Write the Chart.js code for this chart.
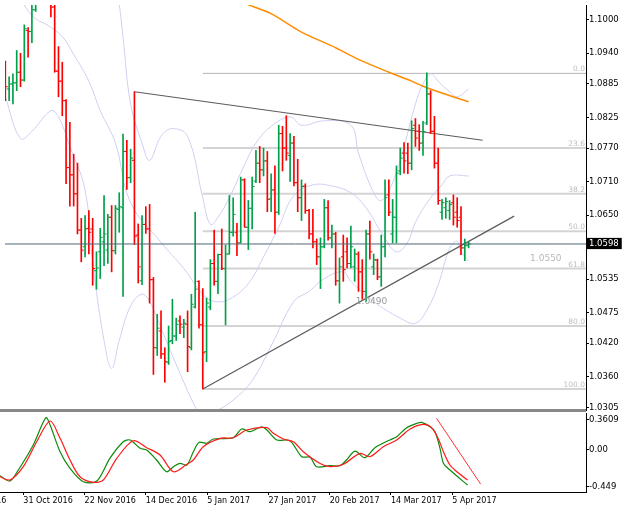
<!DOCTYPE html>
<html lang="en">
<head>
<meta charset="UTF-8" />
<title>EURUSD Daily</title>
<script src="https://cdn.jsdelivr.net/npm/chart.js"></script>
<style>
  body { margin: 0; background: #fff; }
  #wrap { position: relative; width: 625px; height: 513px; overflow: hidden; }
  canvas { position: absolute; left: 0; }
  #main { top: 0; }
  #osc { top: 410px; }
  #sep { position: absolute; left: 0; top: 409px; width: 586px; height: 3px; background: #888; }
</style>
</head>
<body>
<div id="wrap">
  <canvas id="main" width="625" height="420"></canvas>
  <div id="sep"></div>
  <canvas id="osc" width="625" height="103"></canvas>
</div>
<script>
// bar number 0 = 21 Oct 2016, one bar per weekday, 122 = 11 Apr 2017
const opens = [
  1.0917, 1.0876, 1.0885, 1.0887, 1.0906, 1.0892, 1.0981, 1.0979, 1.1018, 1.1097,
  1.1103, 1.1100, 1.1040, 1.1023, 1.0908, 1.0890, 1.0855, 1.0735, 1.0722, 1.0688,
  1.0623, 1.0593, 1.0626, 1.0625, 1.0550, 1.0584, 1.0602, 1.0587, 1.0646, 1.0586,
  1.0660, 1.0663, 1.0764, 1.0717, 1.0748, 1.0614, 1.0532, 1.0633, 1.0625, 1.0534,
  1.0412, 1.0442, 1.0401, 1.0386, 1.0425, 1.0433, 1.0460, 1.0449, 1.0454, 1.0412,
  1.0485, 1.0531, 1.0453, 1.0405, 1.0485, 1.0563, 1.0531, 1.0579, 1.0554, 1.0580,
  1.0619, 1.0619, 1.0600, 1.0713, 1.0628, 1.0662, 1.0711, 1.0743, 1.0731, 1.0747,
  1.0679, 1.0695, 1.0655, 1.0796, 1.0770, 1.0757, 1.0779, 1.0708, 1.0681, 1.0702,
  1.0658, 1.0616, 1.0602, 1.0575, 1.0593, 1.0663, 1.0609, 1.0616, 1.0532, 1.0575,
  1.0584, 1.0563, 1.0557, 1.0580, 1.0548, 1.0513, 1.0616, 1.0557, 1.0569, 1.0539,
  1.0593, 1.0686, 1.0616, 1.0646, 1.0729, 1.0761, 1.0761, 1.0743, 1.0811, 1.0800,
  1.0779, 1.0815, 1.0867, 1.0800, 1.0743, 1.0655, 1.0663, 1.0658, 1.0672, 1.0655,
  1.0646, 1.0591, 1.0596
];
const highs = [
  1.0926, 1.0898, 1.0903, 1.0945, 1.0940, 1.0991, 1.0986, 1.1035, 1.1125, 1.1122,
  1.1143, 1.1105, 1.1075, 1.1300, 1.0952, 1.0924, 1.0857, 1.0816, 1.0759, 1.0743,
  1.0644, 1.0649, 1.0658, 1.0644, 1.0584, 1.0626, 1.0685, 1.0651, 1.0667, 1.0667,
  1.0690, 1.0795, 1.0784, 1.0768, 1.0871, 1.0634, 1.0649, 1.0665, 1.0669, 1.0538,
  1.0472, 1.0478, 1.0412, 1.0451, 1.0499, 1.0465, 1.0469, 1.0463, 1.0478, 1.0508,
  1.0655, 1.0532, 1.0518, 1.0501, 1.0570, 1.0623, 1.0580, 1.0625, 1.0596, 1.0685,
  1.0681, 1.0635, 1.0718, 1.0715, 1.0676, 1.0718, 1.0766, 1.0773, 1.0770, 1.0764,
  1.0724, 1.0738, 1.0811, 1.0809, 1.0828, 1.0796, 1.0791, 1.0750, 1.0713, 1.0706,
  1.0660, 1.0660, 1.0607, 1.0609, 1.0678, 1.0676, 1.0632, 1.0619, 1.0573, 1.0614,
  1.0609, 1.0630, 1.0589, 1.0584, 1.0570, 1.0623, 1.0639, 1.0580, 1.0571, 1.0614,
  1.0713, 1.0713, 1.0678, 1.0738, 1.0770, 1.0780, 1.0779, 1.0819, 1.0823, 1.0812,
  1.0818, 1.0905, 1.0873, 1.0827, 1.0770, 1.0678, 1.0681, 1.0676, 1.0686, 1.0681,
  1.0665, 1.0607, 1.0602
];
const lows = [
  1.0855, 1.0855, 1.0849, 1.0873, 1.0880, 1.0890, 1.0933, 1.0959, 1.1015, 1.1050,
  1.1080, 1.1028, 1.1005, 1.0906, 1.0862, 1.0828, 1.0706, 1.0666, 1.0666, 1.0616,
  1.0566, 1.0575, 1.0580, 1.0524, 1.0517, 1.0536, 1.0559, 1.0563, 1.0548, 1.0580,
  1.0619, 1.0504, 1.0696, 1.0708, 1.0597, 1.0528, 1.0525, 1.0617, 1.0492, 1.0364,
  1.0398, 1.0393, 1.0350, 1.0382, 1.0419, 1.0425, 1.0437, 1.0430, 1.0369, 1.0408,
  1.0483, 1.0447, 1.0338, 1.0387, 1.0480, 1.0524, 1.0509, 1.0552, 1.0453, 1.0580,
  1.0612, 1.0577, 1.0600, 1.0628, 1.0588, 1.0625, 1.0708, 1.0708, 1.0720, 1.0656,
  1.0656, 1.0617, 1.0651, 1.0729, 1.0748, 1.0710, 1.0702, 1.0656, 1.0640, 1.0653,
  1.0607, 1.0591, 1.0561, 1.0518, 1.0591, 1.0605, 1.0591, 1.0524, 1.0492, 1.0531,
  1.0555, 1.0555, 1.0531, 1.0513, 1.0499, 1.0495, 1.0571, 1.0543, 1.0534, 1.0522,
  1.0575, 1.0649, 1.0600, 1.0600, 1.0722, 1.0725, 1.0724, 1.0731, 1.0773, 1.0766,
  1.0757, 1.0812, 1.0796, 1.0734, 1.0669, 1.0642, 1.0644, 1.0642, 1.0632, 1.0628,
  1.0579, 1.0568, 1.0591
];
const closes = [
  1.0880, 1.0885, 1.0887, 1.0906, 1.0892, 1.0984, 1.0979, 1.1018, 1.1097, 1.1103,
  1.1140, 1.1040, 1.1023, 1.0908, 1.0890, 1.0855, 1.0735, 1.0722, 1.0688, 1.0623,
  1.0587, 1.0625, 1.0619, 1.0554, 1.0555, 1.0610, 1.0616, 1.0646, 1.0586, 1.0662,
  1.0665, 1.0764, 1.0717, 1.0752, 1.0612, 1.0557, 1.0633, 1.0625, 1.0534, 1.0412,
  1.0447, 1.0401, 1.0387, 1.0423, 1.0433, 1.0454, 1.0454, 1.0456, 1.0414, 1.0490,
  1.0517, 1.0453, 1.0403, 1.0492, 1.0563, 1.0531, 1.0579, 1.0554, 1.0580, 1.0619,
  1.0651, 1.0600, 1.0713, 1.0628, 1.0662, 1.0701, 1.0743, 1.0731, 1.0747, 1.0678,
  1.0695, 1.0655, 1.0796, 1.0770, 1.0761, 1.0779, 1.0708, 1.0681, 1.0701, 1.0658,
  1.0616, 1.0602, 1.0575, 1.0593, 1.0663, 1.0609, 1.0616, 1.0532, 1.0557, 1.0552,
  1.0563, 1.0593, 1.0580, 1.0548, 1.0513, 1.0616, 1.0584, 1.0570, 1.0539, 1.0593,
  1.0681, 1.0655, 1.0646, 1.0725, 1.0752, 1.0747, 1.0743, 1.0805, 1.0788, 1.0779,
  1.0800, 1.0867, 1.0800, 1.0743, 1.0676, 1.0672, 1.0674, 1.0669, 1.0646, 1.0640,
  1.0591, 1.0595, 1.0598
];
const lastPrice = 1.0598;

// bollinger bands at a few bars
const upperBar = [28, 30, 31, 33, 36, 38, 41, 44, 48, 52, 54, 56, 59, 63, 66, 70, 75, 78, 84, 91, 93, 97, 99, 102, 105, 108, 110, 112, 114, 117, 119, 122];
const upperBand = [1.1098, 1.1027, 1.0968, 1.0849, 1.0779, 1.0748, 1.0791, 1.0805, 1.0791, 1.0681, 1.0633, 1.0646, 1.0681, 1.0740, 1.0779, 1.0809, 1.0826, 1.0811, 1.0819, 1.0811, 1.0761, 1.0690, 1.0676, 1.0708, 1.0773, 1.0849, 1.0885, 1.0903, 1.0890, 1.0871, 1.0862, 1.0876];
const midBar = [3, 5, 8, 11, 15, 18, 22, 25, 29, 33, 41, 47, 52, 55, 59, 64, 68, 72, 76, 81, 86, 91, 95, 99, 103, 106, 108, 112, 115, 117, 122];
const midBand = [1.1062, 1.1027, 1.1002, 1.0991, 1.0970, 1.0938, 1.0890, 1.0837, 1.0779, 1.0672, 1.0601, 1.0554, 1.0508, 1.0495, 1.0499, 1.0527, 1.0575, 1.0628, 1.0685, 1.0704, 1.0702, 1.0690, 1.0663, 1.0619, 1.0584, 1.0602, 1.0637, 1.0681, 1.0704, 1.0720, 1.0720];
const lowerBar = [0, 4, 7, 12, 14, 17, 21, 23, 26, 28, 30, 33, 36, 38, 41, 46, 50, 52, 56, 60, 65, 70, 76, 80, 84, 89, 91, 97, 104, 108, 111, 114, 117, 119, 120, 122];
const lowerBand = [1.0862, 1.0787, 1.0800, 1.0837, 1.0826, 1.0773, 1.0695, 1.0566, 1.0425, 1.0375, 1.0425, 1.0487, 1.0508, 1.0495, 1.0447, 1.0366, 1.0306, 1.0286, 1.0300, 1.0318, 1.0353, 1.0415, 1.0495, 1.0513, 1.0536, 1.0548, 1.0531, 1.0495, 1.0465, 1.0456, 1.0479, 1.0525, 1.0590, 1.0603, 1.0585, 1.0567];

// long moving average (orange)
const maBar = [58, 64, 70, 78, 87, 93, 101, 107, 110, 114, 122];
const maLine = [1.1045, 1.1027, 1.1011, 1.0978, 1.0950, 1.0929, 1.0906, 1.0890, 1.0881, 1.0871, 1.0853];

// drawn objects
const fibLabels = ['0.0', '23.6', '38.2', '50.0', '61.8', '80.0', '100.0'];
const fibPrices = [1.0904, 1.0770, 1.0688, 1.0621, 1.0554, 1.0451, 1.0338];
const fibStartBar = 52;
const topTrend = [{ bar: 34, price: 1.0871 }, { bar: 125.7, price: 1.0784 }];
const lowTrend = [{ bar: 52, price: 1.0338 }, { bar: 134, price: 1.0648 }];
const notes = [
  { text: '1.0550', bar: 138.2, price: 1.0572, color: '#b8b8b8' },
  { text: '1.0490', bar: 92.3, price: 1.0494, color: '#9a9a9a' }
];

// oscillator
const mainBar = [-0.1, 2.5, 4.7, 8.6, 11.9, 13, 15.6, 18.2, 21.7, 25.2, 28.6, 32.1, 33.9, 36.5, 38.2, 40.8, 43.4, 45.2, 46.9, 48.7, 50.4, 51.9, 53.9, 55.6, 60.8, 63, 65.2, 68.2, 69.6, 72.2, 75.6, 78.7, 80.9, 82.6, 86.1, 88.7, 90.4, 92.6, 95.2, 97.8, 101.7, 103.5, 106.1, 108.7, 110, 112.2, 113.5, 114.8, 115.7, 117.4, 122];
const mainLine = [-0.313, -0.377, -0.244, 0.058, 0.388, 0.300, -0.023, -0.224, -0.386, -0.377, -0.103, 0.098, 0.119, 0.018, -0.002, -0.123, -0.265, -0.204, -0.163, -0.184, -0.023, 0.091, 0.079, 0.131, 0.146, 0.252, 0.219, 0.279, 0.239, 0.119, 0.110, -0.083, -0.091, -0.204, -0.192, -0.192, -0.123, -0.015, -0.095, 0.026, 0.119, 0.159, 0.268, 0.320, 0.332, 0.280, 0.219, 0.018, -0.163, -0.244, -0.426];
const signalBar = [-0.1, 2.5, 6, 9.5, 13, 15.6, 18.2, 20.8, 24.3, 26.9, 30.4, 34.7, 38.2, 41.7, 45.2, 48.7, 50.4, 53, 57.4, 60.8, 64.3, 69.6, 71.3, 73.9, 76.5, 79.1, 83.5, 86.1, 89.6, 93.9, 96.5, 100, 103.5, 107, 110.4, 112.6, 114.3, 115.7, 117.4, 119.2, 122];
const signalLine = [-0.325, -0.365, -0.204, 0.098, 0.348, 0.139, -0.123, -0.325, -0.393, -0.365, -0.103, 0.110, 0.026, -0.063, -0.265, -0.175, -0.123, 0.038, 0.139, 0.146, 0.239, 0.268, 0.199, 0.131, 0.098, -0.023, -0.165, -0.204, -0.175, -0.043, -0.083, 0.038, 0.119, 0.252, 0.308, 0.268, 0.139, -0.023, -0.184, -0.265, -0.365];
const oscTrendBar = [113.9, 125.4];
const oscTrend = [0.381, -0.414];

// axes
const priceTicks = [1.1000, 1.0940, 1.0885, 1.0825, 1.0770, 1.0710, 1.0650, 1.0598, 1.0535, 1.0475, 1.0420, 1.0360, 1.0305];
const oscTicks = [0.3609, 0, -0.449];
const oscTickLabels = ['0.3609', '0.00', '-0.449'];
const tickBars = [-10, 6, 22, 38, 54, 70, 86, 102, 118];
const tickLabels = ['7 Oct 2016', '31 Oct 2016', '22 Nov 2016', '14 Dec 2016', '5 Jan 2017', '27 Jan 2017', '20 Feb 2017', '14 Mar 2017', '5 Apr 2017'];

const xMin = -0.084, xMax = 152.92;
const axisFont = { family: 'DejaVu Sans', size: 8.5 };
const UP = '#00a04a', DOWN = '#ff0000';

const pts = (xs, ys) => xs.map((x, i) => ({ x: x, y: ys[i] }));
const barColors = opens.map((o, i) => closes[i] >= o ? UP : DOWN);

function line(data, color, width, order, extra) {
  return Object.assign({ type: 'line', data: data, borderColor: color, borderWidth: width,
    pointRadius: 0, fill: false, order: order }, extra || {});
}

const fibSets = fibPrices.map((p, i) => line(
  [{ x: fibStartBar, y: p }, { x: xMax, y: p }],
  i === 0 ? '#b4b4b4' : '#d4d4d4', i === 0 ? 1 : 2, 9));

const textLayer = {
  id: 'textLayer',
  afterDatasetsDraw(chart) {
    const { ctx, chartArea, scales } = chart;
    ctx.save();
    ctx.font = '7.5px "DejaVu Sans"';
    ctx.fillStyle = '#bdbdbd';
    ctx.textAlign = 'right';
    ctx.textBaseline = 'alphabetic';
    fibPrices.forEach((p, i) => {
      ctx.fillText(fibLabels[i], chartArea.right - 1, scales.y.getPixelForValue(p) - 2);
    });
    ctx.font = '9px "DejaVu Sans"';
    ctx.textAlign = 'left';
    ctx.textBaseline = 'middle';
    notes.forEach(n => {
      ctx.fillStyle = n.color;
      ctx.fillText(n.text, scales.x.getPixelForValue(n.bar), scales.y.getPixelForValue(n.price));
    });
    ctx.restore();
  }
};

const yAxisBase = {
  position: 'right',
  beginAtZero: false,
  grid: { drawOnChartArea: false, drawTicks: true, tickLength: 3, color: '#000' },
  border: { display: true, color: '#000', width: 1 },
  afterFit(s) { s.width = 39; s.paddingTop = 0; s.paddingBottom = 0; }
};

new Chart(document.getElementById('main'), {
  type: 'bar',
  data: {
    datasets: [
      line([{ x: xMin, y: lastPrice }, { x: xMax, y: lastPrice }], '#4f6675', 1, 0),
      line(opens.map((v, i) => ({ x: i - 0.32, y: v })), UP, 1, 1,
        { showLine: false, pointStyle: 'line', pointRadius: 1.2, pointBorderWidth: 1, pointBorderColor: barColors }),
      line(closes.map((v, i) => ({ x: i + 0.32, y: v })), UP, 1, 1,
        { showLine: false, pointStyle: 'line', pointRadius: 1.2, pointBorderWidth: 1, pointBorderColor: barColors }),
      { type: 'bar', data: opens.map((o, i) => ({ x: i, y: [lows[i], highs[i]] })),
        backgroundColor: barColors, borderWidth: 0, barThickness: 1, order: 2 },
      line(topTrend.map(p => ({ x: p.bar, y: p.price })), '#5c5c5c', 1.2, 3),
      line(lowTrend.map(p => ({ x: p.bar, y: p.price })), '#5c5c5c', 1.2, 3),
      line(pts(maBar, maLine), '#ff8c00', 1.5, 4, { tension: 0.3 }),
      line(pts(upperBar, upperBand), '#cfcff2', 1, 5, { tension: 0.4 }),
      line(pts(midBar, midBand), '#cfcff2', 1, 5, { tension: 0.4 }),
      line(pts(lowerBar, lowerBand), '#cfcff2', 1, 5, { tension: 0.4 }),
      ...fibSets
    ]
  },
  options: {
    responsive: false,
    animation: false,
    events: [],
    layout: { padding: { top: 0, bottom: 10, left: 0, right: 0 } },
    plugins: { legend: { display: false }, tooltip: { enabled: false } },
    scales: {
      x: { type: 'linear', min: xMin, max: xMax, offset: false, display: false, grid: { offset: false } },
      y: Object.assign({}, yAxisBase, {
        type: 'linear', min: 1.03003, max: 1.10266,
        afterBuildTicks(s) { s.ticks = priceTicks.map(v => ({ value: v })); },
        ticks: {
          font: axisFont, padding: 0,
          color: c => c.tick && c.tick.value === lastPrice ? '#fff' : '#000',
          showLabelBackdrop: c => !!(c.tick && c.tick.value === lastPrice),
          backdropColor: '#000',
          backdropPadding: { top: 1, bottom: 0, left: 2, right: 3 },
          callback: v => v.toFixed(4)
        }
      })
    }
  },
  plugins: [textLayer]
});

new Chart(document.getElementById('osc'), {
  type: 'line',
  data: {
    datasets: [
      line(pts(signalBar, signalLine), '#ff1a1a', 1.2, 0, { tension: 0.3 }),
      line(pts(mainBar, mainLine), '#0a8a0a', 1.2, 1, { tension: 0.3 }),
      line(pts(oscTrendBar, oscTrend), '#ff3030', 1, 0)
    ]
  },
  options: {
    responsive: false,
    animation: false,
    events: [],
    layout: { padding: { top: 3, bottom: 0, left: 0, right: 0 } },
    plugins: { legend: { display: false }, tooltip: { enabled: false } },
    scales: {
      x: {
        type: 'linear', min: xMin, max: xMax, offset: false,
        grid: { drawOnChartArea: false, drawTicks: true, tickLength: 3, color: '#000' },
        border: { display: true, color: '#000', width: 1 },
        afterBuildTicks(s) { s.ticks = tickBars.map(v => ({ value: v })); },
        afterFit(s) { s.height = 21; s.paddingLeft = 0; s.paddingRight = 0; },
        ticks: { autoSkip: false, maxRotation: 0, minRotation: 0, align: 'start', padding: 1,
          font: { family: 'DejaVu Sans', size: 8 }, color: '#000',
          callback: (v, i) => tickLabels[i] }
      },
      y: Object.assign({}, yAxisBase, {
        type: 'linear', min: -0.51, max: 0.445,
        afterBuildTicks(s) { s.ticks = oscTicks.map(v => ({ value: v })); },
        ticks: { font: axisFont, padding: 0, color: '#000', callback: (v, i) => oscTickLabels[i] }
      })
    }
  }
});
</script>
</body>
</html>
